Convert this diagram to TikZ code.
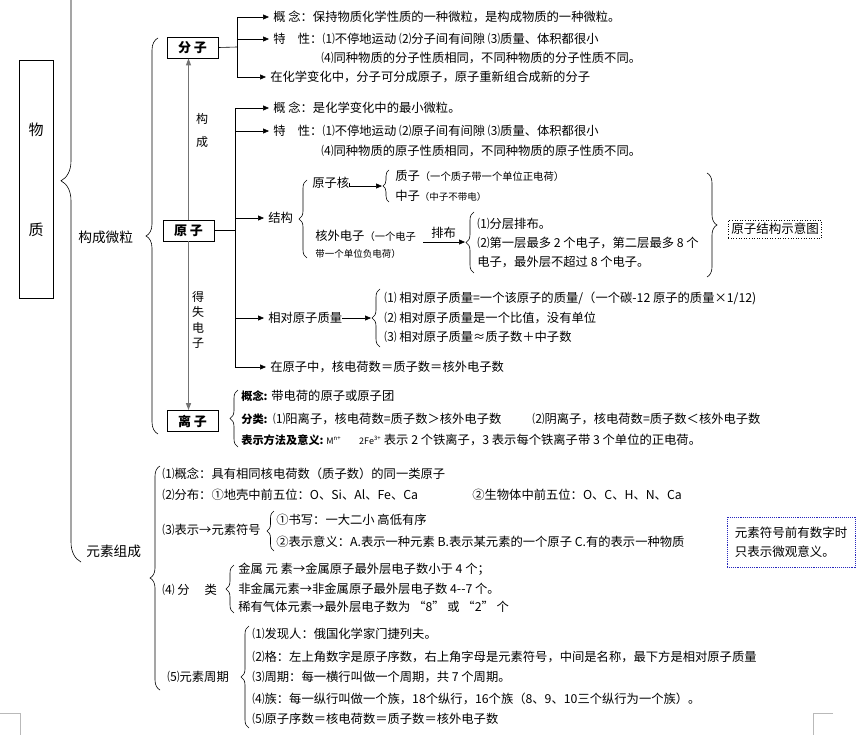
\documentclass[tikz,border=0pt]{standalone}
\usepackage{fontspec}
\setmainfont{Noto Sans CJK SC}
\usetikzlibrary{arrows.meta, decorations.pathreplacing}
\definecolor{lineG}{RGB}{115,115,115}
\definecolor{noteB}{RGB}{40,40,190}
\newcommand{\sm}{\fontsize{9.5}{11}\selectfont}
\newcommand{\bl}{\fontsize{11.2}{12}\selectfont\bfseries}
\tikzset{
  txt/.style={anchor=west, inner sep=0pt, font=\fontsize{12.3}{14}\selectfont},
  arr/.style={-{Triangle[length=6pt,width=5pt]}, shorten >=4pt},
  garr/.style={-{Triangle[length=7pt,width=5pt]}, lineG, line width=1.3pt},
  brc/.style={decorate, decoration={brace, amplitude=#1}},
  pbox/.style={draw, line width=0.8pt, minimum width=51pt, minimum height=21pt,
    inner sep=0pt, font=\fontsize{13}{14}\selectfont\bfseries}
}

\begin{document}
\begin{tikzpicture}[x=1pt, y=-1pt, line width=0.6pt]
\useasboundingbox (0,0) rectangle (867,739);
% title box on the left
\node[draw, minimum width=34pt, minimum height=238pt, inner sep=0pt] (wz) at (36,179) {};
\node[font=\fontsize{15}{16}\selectfont] (wu) at (36,130) {物};
\node[font=\fontsize{15}{16}\selectfont] (zhi) at (36,230) {质};
% outer brace
\coordinate (ob1) at (81,562);
\coordinate (ob2) at (81,-20);
\draw[brc=20pt, decoration={aspect=0.655}] (ob1) -- (ob2);

% ---- 构成微粒 ----
\node[txt, font=\fontsize{13.7}{14}\selectfont] (gcwl) at (78,237) {构成微粒};
\coordinate (wl1) at (158,434);
\coordinate (wl2) at (158,38);
\draw[brc=12pt] (wl1) -- (wl2);
\node[pbox] (fz) at (192.5,47.5) {分 子};
\node[pbox] (yz) at (188.5,230.5) {原 子};
\node[pbox] (lz) at (192.5,421) {离 子};
\draw[garr] (yz.north) -- (yz.north |- fz.south);
\draw[garr] (yz.south) -- (yz.south |- lz.north);
\node[align=center, inner sep=0pt, font=\fontsize{12}{23}\selectfont] (gc) at (202,130) {构\\成};
\node[align=center, inner sep=0pt, font=\fontsize{12}{15.5}\selectfont] (dsdz) at (198,320) {得\\失\\电\\子};

% 分子
\coordinate (fzbus) at (237,47);
\node[txt] (fzgn) at (273,17) {概 念：保持物质化学性质的一种微粒，是构成物质的一种微粒。};
\node[txt] (fztx) at (273,39) {特\quad 性：⑴不停地运动 ⑵分子间有间隙 ⑶质量、体积都很小};
\node[txt] (fztx2) at (321,58) {⑷同种物质的分子性质相同，不同种物质的分子性质不同。};
\node[txt] (fzbh) at (270,77) {在化学变化中，分子可分成原子，原子重新组合成新的分子};
\draw (fz.east) -- (fzbus);
\draw (fzgn.west -| fzbus) -- (fzbh.west -| fzbus);
\draw[arr] (fzgn.west -| fzbus) -- (fzgn.west);
\draw[arr] (fztx.west -| fzbus) -- (fztx.west);
\draw[arr] (fzbh.west -| fzbus) -- (fzbh.west);

% 原子
\coordinate (yzbus) at (235,230.5);
\node[txt] (yzgn) at (273,108) {概 念：是化学变化中的最小微粒。};
\node[txt] (yztx) at (273,131) {特\quad 性：⑴不停地运动 ⑵原子间有间隙 ⑶质量、体积都很小};
\node[txt] (yztx2) at (321,151) {⑷同种物质的原子性质相同，不同种物质的原子性质不同。};
\node[txt] (yzjg) at (268,218) {结构};
\node[txt] (yzzl) at (268,318) {相对原子质量};
\node[txt] (yzzx) at (270,367) {在原子中，核电荷数＝质子数＝核外电子数};
\draw (yz.east) -- (yzbus);
\draw (yzgn.west -| yzbus) -- (yzzx.west -| yzbus);
\foreach \n in {yzgn, yztx, yzjg, yzzl, yzzx}
  \draw[arr] (\n.west -| yzbus) -- (\n.west);

% 结构
\coordinate (jg1) at (307,258);
\coordinate (jg2) at (307,180);
\draw[brc=8pt] (jg1) -- (jg2);
\node[txt] (yzh) at (312,183) {原子核};
\coordinate (hb1) at (389,202);
\coordinate (hb2) at (389,170);
\coordinate (hbtip) at (383,186);
\draw[brc=6pt] (hb1) -- (hb2);
\draw[arr, shorten >=1pt] (yzh.east) -- (hbtip -| yzh.east) -- (hbtip);
\node[txt] (zz) at (395,176) {质子{\fontsize{10.3}{11}\selectfont（一个质子带一个单位正电荷）}};
\node[txt] (zhz) at (395,196) {中子{\sm（中子不带电）}};
\node[txt] (hwdz) at (315,236) {核外电子{\fontsize{10.3}{11}\selectfont（一个电子}};
\node[txt] (hwdz2) at (315,254) {\sm 带一个单位负电荷）};
\coordinate (pbs) at (423,242);
\coordinate (pbtip) at (466,242);
\draw[arr, shorten >=1pt] (pbs) -- (pbtip);
\node[txt] (pb) at (431,233) {排布};
\coordinate (pb1) at (474,273);
\coordinate (pb2) at (474,212);
\draw[brc=8pt] (pb1) -- (pb2);
\node[txt] (pbi1) at (477,224) {⑴分层排布。};
\node[txt] (pbi2) at (477,243) {⑵第一层最多 2 个电子，第二层最多 8 个};
\node[txt] (pbi3) at (477,262) {电子，最外层不超过 8 个电子。};
\coordinate (rb1) at (707,173);
\coordinate (rb2) at (707,277);
\draw[brc=10pt] (rb1) -- (rb2);
\node[draw, dotted, inner sep=3pt, font=\fontsize{12.5}{14}\selectfont] (jgt) at (775,229) {原子结构示意图};

% 相对原子质量
\coordinate (zl1) at (380,347);
\coordinate (zl2) at (380,289);
\coordinate (zltip) at (372,318);
\draw[brc=8pt] (zl1) -- (zl2);
\draw[arr, shorten >=1pt] (yzzl.east) -- (zltip);
\node[txt] (zli1) at (384,298) {⑴ 相对原子质量=一个该原子的质量/（一个碳-12 原子的质量×1/12)};
\node[txt] (zli2) at (384,318) {⑵ 相对原子质量是一个比值，没有单位};
\node[txt] (zli3) at (384,337) {⑶ 相对原子质量≈质子数＋中子数};

% 离子
\coordinate (lzb1) at (238,447);
\coordinate (lzb2) at (238,390);
\draw[brc=8pt] (lzb1) -- (lzb2);
\node[txt] (lzgn) at (241,396) {{\bl 概念:} 带电荷的原子或原子团};
\node[txt] (lzfl) at (241,419) {{\bl 分类:}\ \ ⑴阳离子，核电荷数=质子数＞核外电子数};
\node[txt] (lzfl2) at (532,419) {⑵阴离子，核电荷数=质子数＜核外电子数};
\node[txt] (lzbs) at (241,440) {{\bl 表示方法及意义:}\ {\fontsize{9}{10}\selectfont M\textsuperscript{n+}\qquad 2Fe\textsuperscript{3+}} 表示 2 个铁离子，3 表示每个铁离子带 3 个单位的正电荷。};

% ---- 元素组成 ----
\node[txt, font=\fontsize{13.7}{14}\selectfont] (yszc) at (86,551) {元素组成};
\coordinate (ys1) at (160,690);
\coordinate (ys2) at (160,466);
\draw[brc=10pt] (ys1) -- (ys2);
\node[txt] (ysgn) at (162,474) {⑴概念：具有相同核电荷数（质子数）的同一类原子};
\node[txt] (ysfb) at (162,495) {⑵分布：①地壳中前五位：O、Si、Al、Fe、Ca};
\node[txt] (ysfb2) at (472,495) {②生物体中前五位：O、C、H、N、Ca};
\node[txt] (ysbs) at (162,530) {⑶表示→元素符号};
\coordinate (bs1) at (274,551);
\coordinate (bs2) at (274,511);
\draw[brc=7pt] (bs1) -- (bs2);
\node[txt] (ysbs1) at (276,520) {①书写：一大二小 高低有序};
\node[txt] (ysbs2) at (276,542) {②表示意义：A.表示一种元素 B.表示某元素的一个原子 C.有的表示一种物质};
\node[draw=noteB, densely dotted, line width=0.9pt, minimum width=128pt, minimum height=50pt,
  align=left, font=\fontsize{12.5}{19}\selectfont] (yszy) at (791,542) {元素符号前有数字时\\只表示微观意义。};
\node[txt] (ysfl) at (162,590) {⑷ 分\quad\ 类};
\coordinate (fl1) at (234,613);
\coordinate (fl2) at (234,565);
\draw[brc=8pt] (fl1) -- (fl2);
\node[txt] (fli1) at (238,569) {金属\ 元\ 素→金属原子最外层电子数小于 4 个；};
\node[txt] (fli2) at (238,589) {非金属元素→非金属原子最外层电子数 4{-}{-}7 个。};
\node[txt] (fli3) at (238,607) {稀有气体元素→最外层电子数为 “8” 或 “2” 个};
\node[txt] (yszq) at (167,677) {⑸元素周期};
\coordinate (zq1) at (249,728);
\coordinate (zq2) at (249,626);
\draw[brc=8pt] (zq1) -- (zq2);
\node[txt] (zqi1) at (252,634) {⑴发现人：俄国化学家门捷列夫。};
\node[txt] (zqi2) at (252,657) {⑵格：左上角数字是原子序数，右上角字母是元素符号，中间是名称，最下方是相对原子质量};
\node[txt] (zqi3) at (252,677) {⑶周期：每一横行叫做一个周期，共 7 个周期。};
\node[txt] (zqi4) at (252,699) {⑷族：每一纵行叫做一个族，18个纵行，16个族（8、9、10三个纵行为一个族）。};
\node[txt] (zqi5) at (252,719) {⑸原子序数＝核电荷数＝质子数＝核外电子数};

% page corner marks
\draw[lineG!50] (0,713) -- (20,713) -- (20,735);
\draw[lineG!50] (833,713) -- (813,713) -- (813,735);
\end{tikzpicture}
\end{document}
